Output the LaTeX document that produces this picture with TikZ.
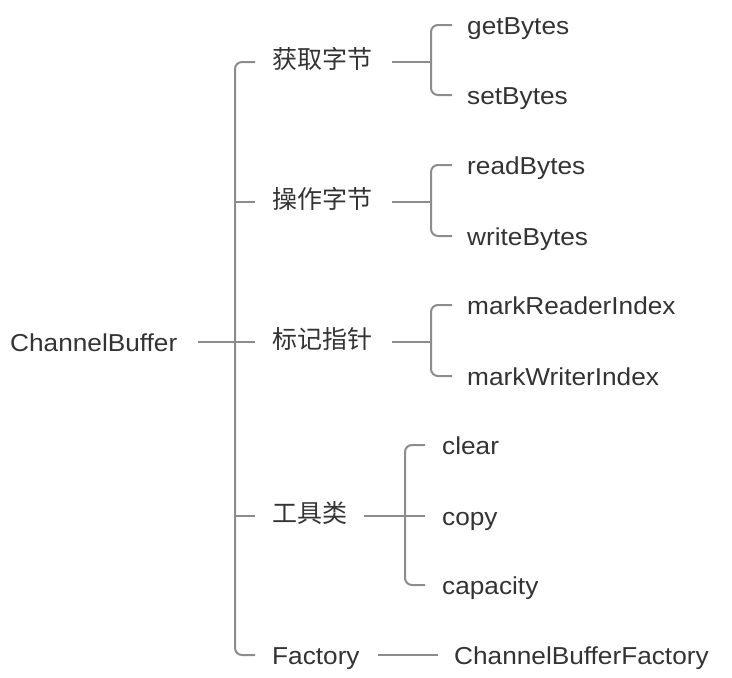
\documentclass[tikz,border=0pt]{standalone}
\usepackage{fontspec}
\setmainfont[FakeStretch=1.07]{Liberation Sans}
\newfontfamily\cjk{Noto Sans CJK SC}
\definecolor{txtC}{RGB}{51,51,51}
\definecolor{lineC}{RGB}{140,140,140}
\begin{document}
\begin{tikzpicture}[x=1pt,y=-1pt,
  lat/.style={anchor=west,inner sep=0pt,text height=18pt,text depth=0pt,text=txtC,font=\fontsize{24.5}{28}\selectfont},
  chn/.style={anchor=west,inner sep=0pt,text height=13pt,text depth=0pt,text=txtC,font=\cjk\fontsize{25}{28}\selectfont},
  conn/.style={draw=lineC,line width=2pt},
  brk/.style={conn,rounded corners=7pt}]
\useasboundingbox (0,0) rectangle (732,678);
% nodes
\node[lat] (cb) at (10,342) {ChannelBuffer};
\node[chn] (l1) at (272,62) {获取字节};
\node[chn] (l2) at (272,202) {操作字节};
\node[chn] (l3) at (272,342) {标记指针};
\node[chn] (l4) at (272,516) {工具类};
\node[lat] (l5) at (272,655) {Factory};
\node[lat] (a1) at (467,25) {getBytes};
\node[lat] (a2) at (467,95) {setBytes};
\node[lat] (b1) at (467,165) {readBytes};
\node[lat] (b2) at (467,236) {writeBytes};
\node[lat] (c1) at (467,305) {markReaderIndex};
\node[lat] (c2) at (467,376) {markWriterIndex};
\node[lat] (d1) at (442,445) {clear};
\node[lat] (d2) at (442,516) {copy};
\node[lat] (d3) at (442,585) {capacity};
\node[lat] (e1) at (454,655) {ChannelBufferFactory};
% junction coordinates
\coordinate (s0) at (235,342);
\coordinate (j1) at (431,62);
\coordinate (j2) at (431,202);
\coordinate (j3) at (431,342);
\coordinate (j4) at (405,516);
% main spine
\draw[conn,shorten <=20pt,shorten >=17pt] (cb.east) -- (l3.west);
\draw[brk] ([xshift=-17pt]l1.west) -| (s0) |- ([xshift=-17pt]l5.west);
\draw[conn,shorten >=17pt] (s0 |- l2.west) -- (l2.west);
\draw[conn,shorten >=17pt] (s0 |- l4.west) -- (l4.west);
% group 1
\draw[conn,shorten <=20pt] (l1.east) -- (j1);
\draw[brk] ([xshift=-15pt]a1.west) -| (j1) |- ([xshift=-15pt]a2.west);
% group 2
\draw[conn,shorten <=20pt] (l2.east) -- (j2);
\draw[brk] ([xshift=-15pt]b1.west) -| (j2) |- ([xshift=-15pt]b2.west);
% group 3
\draw[conn,shorten <=20pt] (l3.east) -- (j3);
\draw[brk] ([xshift=-15pt]c1.west) -| (j3) |- ([xshift=-15pt]c2.west);
% group 4
\draw[conn,shorten <=17pt] (l4.east) -- (j4);
\draw[brk] ([xshift=-17pt]d1.west) -| (j4) |- ([xshift=-17pt]d3.west);
\draw[conn,shorten >=17pt] (j4) -- (d2.west);
% factory
\draw[conn,shorten <=18pt,shorten >=16pt] (l5.east) -- (e1.west);
\end{tikzpicture}
\end{document}
